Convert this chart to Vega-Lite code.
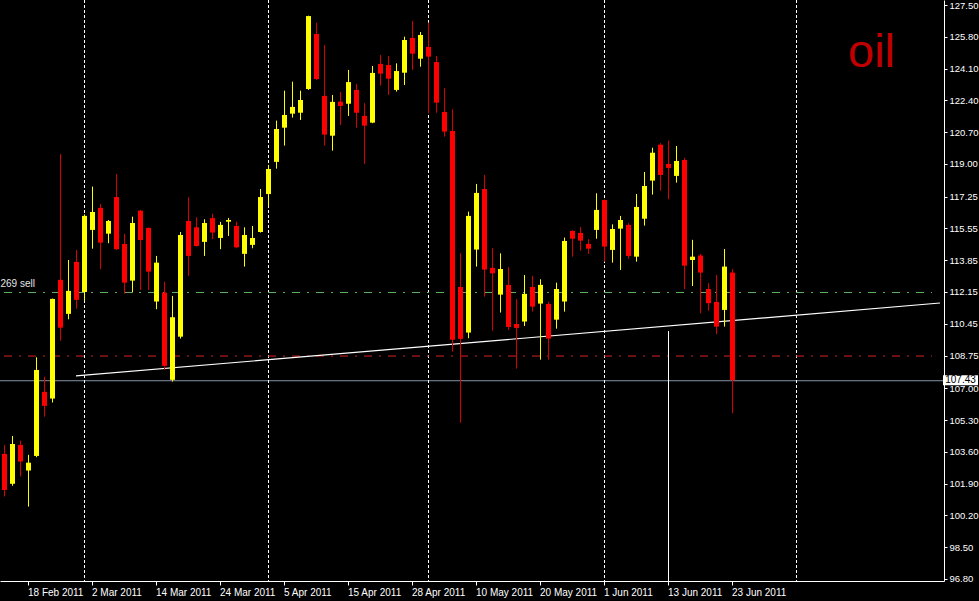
{
  "$schema": "https://vega.github.io/schema/vega-lite/v6.json",
  "width": 944,
  "height": 581,
  "autosize": {"type": "none"},
  "padding": {"left": 0, "top": 0, "right": 35, "bottom": 20},
  "background": "#000000",
  "config": {
    "view": {"stroke": null, "fill": "#000000"},
    "font": "Liberation Sans",
    "axisY": {
      "orient": "right",
      "grid": false,
      "domainColor": "#ffffff",
      "tickColor": "#ffffff",
      "tickSize": 3,
      "labelColor": "#ffffff",
      "labelFont": "Liberation Sans",
      "labelFontSize": 9.5,
      "labelPadding": 2,
      "labelAlign": "left",
      "labelBaseline": "middle",
      "labelFlush": false,
      "labelOverlap": false
    }
  },
  "datasets": {
    "candles": [
      {"date": "15 Feb 2011", "o": 103.49, "h": 103.97, "l": 101.21, "c": 101.56},
      {"date": "16 Feb 2011", "o": 101.89, "h": 104.45, "l": 101.78, "c": 104.02},
      {"date": "17 Feb 2011", "o": 103.97, "h": 104.20, "l": 102.28, "c": 103.08},
      {"date": "18 Feb 2011", "o": 102.60, "h": 103.44, "l": 100.67, "c": 103.02},
      {"date": "21 Feb 2011", "o": 103.38, "h": 108.66, "l": 103.31, "c": 107.98},
      {"date": "22 Feb 2011", "o": 106.81, "h": 107.62, "l": 105.48, "c": 106.06},
      {"date": "23 Feb 2011", "o": 106.45, "h": 111.80, "l": 106.24, "c": 111.78},
      {"date": "24 Feb 2011", "o": 112.80, "h": 119.53, "l": 109.55, "c": 110.24},
      {"date": "25 Feb 2011", "o": 110.98, "h": 113.86, "l": 110.69, "c": 112.21},
      {"date": "28 Feb 2011", "o": 113.76, "h": 114.40, "l": 111.26, "c": 111.73},
      {"date": "1 Mar 2011", "o": 112.15, "h": 116.30, "l": 111.69, "c": 116.22},
      {"date": "2 Mar 2011", "o": 115.47, "h": 117.79, "l": 114.47, "c": 116.43},
      {"date": "3 Mar 2011", "o": 116.65, "h": 116.86, "l": 113.37, "c": 114.79},
      {"date": "4 Mar 2011", "o": 115.27, "h": 116.00, "l": 114.76, "c": 115.95},
      {"date": "7 Mar 2011", "o": 117.23, "h": 118.46, "l": 114.40, "c": 114.44},
      {"date": "8 Mar 2011", "o": 114.72, "h": 115.26, "l": 112.05, "c": 112.65},
      {"date": "9 Mar 2011", "o": 112.76, "h": 116.18, "l": 112.12, "c": 115.84},
      {"date": "10 Mar 2011", "o": 116.50, "h": 116.54, "l": 112.26, "c": 114.93},
      {"date": "11 Mar 2011", "o": 115.58, "h": 115.60, "l": 112.26, "c": 113.24},
      {"date": "14 Mar 2011", "o": 111.64, "h": 114.08, "l": 111.23, "c": 113.72},
      {"date": "15 Mar 2011", "o": 112.12, "h": 112.70, "l": 107.98, "c": 108.20},
      {"date": "16 Mar 2011", "o": 107.45, "h": 111.94, "l": 107.36, "c": 110.80},
      {"date": "17 Mar 2011", "o": 109.76, "h": 115.36, "l": 109.66, "c": 115.20},
      {"date": "18 Mar 2011", "o": 115.95, "h": 117.22, "l": 113.01, "c": 114.08},
      {"date": "21 Mar 2011", "o": 115.61, "h": 116.15, "l": 114.58, "c": 114.61},
      {"date": "22 Mar 2011", "o": 114.83, "h": 116.04, "l": 114.08, "c": 115.84},
      {"date": "23 Mar 2011", "o": 116.10, "h": 116.33, "l": 114.97, "c": 115.33},
      {"date": "24 Mar 2011", "o": 115.04, "h": 115.90, "l": 114.44, "c": 115.74},
      {"date": "25 Mar 2011", "o": 115.91, "h": 116.11, "l": 115.15, "c": 116.00},
      {"date": "28 Mar 2011", "o": 115.68, "h": 115.91, "l": 114.49, "c": 114.54},
      {"date": "29 Mar 2011", "o": 114.19, "h": 115.61, "l": 113.51, "c": 115.20},
      {"date": "30 Mar 2011", "o": 114.67, "h": 115.68, "l": 114.49, "c": 115.04},
      {"date": "31 Mar 2011", "o": 115.36, "h": 117.66, "l": 115.33, "c": 117.23},
      {"date": "1 Apr 2011", "o": 117.39, "h": 118.95, "l": 116.72, "c": 118.73},
      {"date": "4 Apr 2011", "o": 119.11, "h": 121.32, "l": 118.75, "c": 120.87},
      {"date": "5 Apr 2011", "o": 120.94, "h": 122.92, "l": 119.98, "c": 121.62},
      {"date": "6 Apr 2011", "o": 121.69, "h": 123.40, "l": 121.48, "c": 122.05},
      {"date": "7 Apr 2011", "o": 121.74, "h": 122.92, "l": 121.35, "c": 122.42},
      {"date": "8 Apr 2011", "o": 123.01, "h": 126.93, "l": 122.96, "c": 126.91},
      {"date": "11 Apr 2011", "o": 125.95, "h": 126.56, "l": 123.49, "c": 123.54},
      {"date": "12 Apr 2011", "o": 122.64, "h": 125.36, "l": 119.98, "c": 120.57},
      {"date": "13 Apr 2011", "o": 120.51, "h": 122.69, "l": 119.71, "c": 122.32},
      {"date": "14 Apr 2011", "o": 122.33, "h": 122.85, "l": 121.08, "c": 122.10},
      {"date": "15 Apr 2011", "o": 122.22, "h": 124.03, "l": 121.57, "c": 123.38},
      {"date": "18 Apr 2011", "o": 122.96, "h": 123.28, "l": 120.94, "c": 121.74},
      {"date": "19 Apr 2011", "o": 121.57, "h": 122.25, "l": 119.00, "c": 121.05},
      {"date": "20 Apr 2011", "o": 121.21, "h": 124.24, "l": 121.18, "c": 123.87},
      {"date": "21 Apr 2011", "o": 124.35, "h": 124.83, "l": 123.19, "c": 123.83},
      {"date": "25 Apr 2011", "o": 124.29, "h": 124.78, "l": 122.69, "c": 123.56},
      {"date": "26 Apr 2011", "o": 122.96, "h": 124.38, "l": 122.87, "c": 123.97},
      {"date": "27 Apr 2011", "o": 123.88, "h": 125.81, "l": 123.22, "c": 125.63},
      {"date": "28 Apr 2011", "o": 125.74, "h": 126.65, "l": 124.03, "c": 124.90},
      {"date": "29 Apr 2011", "o": 124.63, "h": 126.06, "l": 124.20, "c": 125.90},
      {"date": "2 May 2011", "o": 125.26, "h": 126.56, "l": 121.71, "c": 124.74},
      {"date": "3 May 2011", "o": 124.45, "h": 124.78, "l": 121.74, "c": 122.28},
      {"date": "4 May 2011", "o": 121.78, "h": 123.05, "l": 120.46, "c": 120.73},
      {"date": "5 May 2011", "o": 120.76, "h": 121.92, "l": 108.96, "c": 109.59},
      {"date": "6 May 2011", "o": 112.42, "h": 114.22, "l": 105.16, "c": 109.64},
      {"date": "9 May 2011", "o": 109.98, "h": 116.45, "l": 109.68, "c": 116.22},
      {"date": "10 May 2011", "o": 114.42, "h": 117.93, "l": 113.51, "c": 117.45},
      {"date": "11 May 2011", "o": 117.66, "h": 118.41, "l": 111.90, "c": 113.35},
      {"date": "12 May 2011", "o": 113.44, "h": 114.49, "l": 110.08, "c": 113.15},
      {"date": "13 May 2011", "o": 112.01, "h": 114.22, "l": 111.05, "c": 113.38},
      {"date": "16 May 2011", "o": 112.53, "h": 113.47, "l": 110.12, "c": 110.28},
      {"date": "17 May 2011", "o": 110.44, "h": 111.76, "l": 108.05, "c": 110.23},
      {"date": "18 May 2011", "o": 110.57, "h": 113.06, "l": 110.33, "c": 112.05},
      {"date": "19 May 2011", "o": 112.42, "h": 113.01, "l": 111.10, "c": 111.37},
      {"date": "20 May 2011", "o": 111.53, "h": 112.83, "l": 108.53, "c": 112.53},
      {"date": "23 May 2011", "o": 111.51, "h": 111.62, "l": 108.53, "c": 109.66},
      {"date": "24 May 2011", "o": 110.67, "h": 112.65, "l": 110.19, "c": 112.31},
      {"date": "25 May 2011", "o": 111.64, "h": 115.06, "l": 111.10, "c": 114.88},
      {"date": "26 May 2011", "o": 115.42, "h": 115.45, "l": 114.04, "c": 115.00},
      {"date": "27 May 2011", "o": 115.31, "h": 115.63, "l": 114.36, "c": 114.90},
      {"date": "30 May 2011", "o": 114.72, "h": 114.97, "l": 114.19, "c": 114.47},
      {"date": "31 May 2011", "o": 115.47, "h": 117.43, "l": 115.00, "c": 116.54},
      {"date": "1 Jun 2011", "o": 117.07, "h": 117.10, "l": 113.77, "c": 114.58},
      {"date": "2 Jun 2011", "o": 114.40, "h": 115.77, "l": 113.72, "c": 115.52},
      {"date": "3 Jun 2011", "o": 115.54, "h": 116.22, "l": 113.33, "c": 116.00},
      {"date": "6 Jun 2011", "o": 115.74, "h": 115.83, "l": 113.93, "c": 114.08},
      {"date": "7 Jun 2011", "o": 114.04, "h": 117.39, "l": 113.77, "c": 116.70},
      {"date": "8 Jun 2011", "o": 116.07, "h": 118.57, "l": 115.70, "c": 117.82},
      {"date": "9 Jun 2011", "o": 118.11, "h": 119.87, "l": 117.36, "c": 119.60},
      {"date": "10 Jun 2011", "o": 120.03, "h": 120.11, "l": 117.57, "c": 118.41},
      {"date": "13 Jun 2011", "o": 119.00, "h": 120.25, "l": 117.11, "c": 118.79},
      {"date": "14 Jun 2011", "o": 118.36, "h": 119.96, "l": 118.00, "c": 119.16},
      {"date": "15 Jun 2011", "o": 119.21, "h": 119.32, "l": 112.30, "c": 113.56},
      {"date": "16 Jun 2011", "o": 113.86, "h": 114.94, "l": 112.47, "c": 114.04},
      {"date": "17 Jun 2011", "o": 114.10, "h": 114.19, "l": 111.01, "c": 113.19},
      {"date": "20 Jun 2011", "o": 112.31, "h": 112.62, "l": 111.15, "c": 111.55},
      {"date": "21 Jun 2011", "o": 111.62, "h": 113.06, "l": 109.89, "c": 110.30},
      {"date": "22 Jun 2011", "o": 111.19, "h": 114.45, "l": 110.30, "c": 113.51},
      {"date": "23 Jun 2011", "o": 113.19, "h": 113.38, "l": 105.67, "c": 107.43}
    ],
    "grid": [
      {"date": "1 Mar 2011"}, {"date": "1 Apr 2011"}, {"date": "2 May 2011"}, {"date": "1 Jun 2011"}, {"date": "5 Jul 2011"}
    ],
    "levels": [
      {"date": "15 Feb 2011", "date2": "28 Jul 2011", "price": 112.15, "line": "sell"},
      {"date": "15 Feb 2011", "date2": "28 Jul 2011", "price": 108.75, "line": "level"}
    ],
    "trend": [
      {"date": "28 Feb 2011", "price": 107.66},
      {"date": "29 Jul 2011", "price": 111.56}
    ],
    "vline": [{"date": "13 Jun 2011", "price": 110.06, "price2": 96.69}],
    "bid": [{"price": 107.43}],
    "bidbox": [{"date": "29 Jul 2011", "price": 107.43, "text": "107.43"}],
    "oil": [{"date": "14 Jul 2011", "price": 124.2, "text": "oil"}],
    "sell": [{"date": "15 Feb 2011", "price": 112.42, "text": "269 sell"}]
  },
  "layer": [
    {
      "data": {"name": "bid"},
      "mark": {"type": "rule", "color": "#8593a3", "strokeWidth": 1, "yOffset": 0.5},
      "encoding": {
        "y": {
          "field": "price",
          "type": "quantitative",
          "title": null,
          "scale": {"domain": [96.69, 127.77], "nice": false, "zero": false},
          "axis": {
            "orient": "right",
            "values": [127.5, 125.8, 124.1, 122.4, 120.7, 119, 117.25, 115.55, 113.85, 112.15, 110.45, 108.75, 107, 105.3, 103.6, 101.9, 100.2, 98.5, 96.8],
            "format": ".2f",
            "title": null,
            "grid": false,
            "domainColor": "#ffffff",
            "tickColor": "#ffffff",
            "tickSize": 3,
            "labelColor": "#ffffff",
            "labelFont": "Liberation Sans",
            "labelFontSize": 9.5,
            "labelPadding": 2,
            "labelAlign": "left",
            "labelBaseline": "middle",
            "labelFlush": false,
            "labelOverlap": false,
            "labelBound": false,
            "tickCount": 19
          }
        }
      }
    },
    {
      "encoding": {
        "x": {
          "field": "date",
          "type": "ordinal",
          "sort": null,
          "scale": {
            "domain": ["15 Feb 2011","16 Feb 2011","17 Feb 2011","18 Feb 2011","21 Feb 2011","22 Feb 2011","23 Feb 2011","24 Feb 2011","25 Feb 2011","28 Feb 2011","1 Mar 2011","2 Mar 2011","3 Mar 2011","4 Mar 2011","7 Mar 2011","8 Mar 2011","9 Mar 2011","10 Mar 2011","11 Mar 2011","14 Mar 2011","15 Mar 2011","16 Mar 2011","17 Mar 2011","18 Mar 2011","21 Mar 2011","22 Mar 2011","23 Mar 2011","24 Mar 2011","25 Mar 2011","28 Mar 2011","29 Mar 2011","30 Mar 2011","31 Mar 2011","1 Apr 2011","4 Apr 2011","5 Apr 2011","6 Apr 2011","7 Apr 2011","8 Apr 2011","11 Apr 2011","12 Apr 2011","13 Apr 2011","14 Apr 2011","15 Apr 2011","18 Apr 2011","19 Apr 2011","20 Apr 2011","21 Apr 2011","25 Apr 2011","26 Apr 2011","27 Apr 2011","28 Apr 2011","29 Apr 2011","2 May 2011","3 May 2011","4 May 2011","5 May 2011","6 May 2011","9 May 2011","10 May 2011","11 May 2011","12 May 2011","13 May 2011","16 May 2011","17 May 2011","18 May 2011","19 May 2011","20 May 2011","23 May 2011","24 May 2011","25 May 2011","26 May 2011","27 May 2011","30 May 2011","31 May 2011","1 Jun 2011","2 Jun 2011","3 Jun 2011","6 Jun 2011","7 Jun 2011","8 Jun 2011","9 Jun 2011","10 Jun 2011","13 Jun 2011","14 Jun 2011","15 Jun 2011","16 Jun 2011","17 Jun 2011","20 Jun 2011","21 Jun 2011","22 Jun 2011","23 Jun 2011","24 Jun 2011","27 Jun 2011","28 Jun 2011","29 Jun 2011","30 Jun 2011","1 Jul 2011","4 Jul 2011","5 Jul 2011","6 Jul 2011","7 Jul 2011","8 Jul 2011","11 Jul 2011","12 Jul 2011","13 Jul 2011","14 Jul 2011","15 Jul 2011","18 Jul 2011","19 Jul 2011","20 Jul 2011","21 Jul 2011","22 Jul 2011","25 Jul 2011","26 Jul 2011","27 Jul 2011","28 Jul 2011","29 Jul 2011"],
            "paddingInner": 0,
            "paddingOuter": 0
          },
          "axis": {
            "orient": "bottom",
            "values": ["18 Feb 2011","2 Mar 2011","14 Mar 2011","24 Mar 2011","5 Apr 2011","15 Apr 2011","28 Apr 2011","10 May 2011","20 May 2011","1 Jun 2011","13 Jun 2011","23 Jun 2011"],
            "title": null,
            "grid": false,
            "labelAngle": 0,
            "labelAlign": "left",
            "labelBaseline": "top",
            "labelPadding": 2,
            "tickSize": 4,
            "domainColor": "#ffffff",
            "tickColor": "#ffffff",
            "labelColor": "#ffffff",
            "labelFont": "Liberation Sans",
            "labelFontSize": 10,
            "labelOverlap": false,
            "labelFlush": false,
            "bandPosition": 0.5
          }
        }
      },
      "layer": [
        {
          "data": {"name": "grid"},
          "mark": {"type": "rule", "color": "#ffffff", "strokeDash": [3, 2], "strokeWidth": 1, "xOffset": 0.5},
          "encoding": {}
        },
        {
          "data": {"name": "levels"},
          "mark": {"type": "rule", "strokeDash": [8, 7, 2, 7], "strokeWidth": 1, "yOffset": 0.5},
          "encoding": {
            "x2": {"field": "date2"},
            "y": {"field": "price", "type": "quantitative", "title": null, "scale": {"domain": [96.69, 127.77], "nice": false, "zero": false}},
            "color": {"field": "line", "type": "nominal", "scale": {"domain": ["sell", "level"], "range": ["#5fb35f", "#d42020"]}, "legend": null}
          }
        },
        {
          "data": {"name": "trend"},
          "mark": {"type": "line", "color": "#ffffff", "strokeWidth": 1.2},
          "encoding": {
            "y": {"field": "price", "type": "quantitative", "title": null, "scale": {"domain": [96.69, 127.77], "nice": false, "zero": false}}
          }
        },
        {
          "data": {"name": "vline"},
          "mark": {"type": "rule", "color": "#ffffff", "strokeWidth": 1, "xOffset": 0.5},
          "encoding": {
            "y": {"field": "price", "type": "quantitative", "title": null, "scale": {"domain": [96.69, 127.77], "nice": false, "zero": false}},
            "y2": {"field": "price2"}
          }
        },
        {
          "data": {"name": "candles"},
          "mark": {"type": "rule", "strokeWidth": 1, "xOffset": 0.5},
          "encoding": {
            "y": {"field": "l", "type": "quantitative", "title": null, "scale": {"domain": [96.69, 127.77], "nice": false, "zero": false}},
            "y2": {"field": "h"},
            "color": {"condition": {"test": "datum.c >= datum.o", "value": "#ffff00"}, "value": "#d80000"}
          }
        },
        {
          "data": {"name": "candles"},
          "mark": {"type": "bar", "size": 5, "xOffset": 0.5},
          "encoding": {
            "y": {"field": "o", "type": "quantitative", "title": null, "scale": {"domain": [96.69, 127.77], "nice": false, "zero": false}},
            "y2": {"field": "c"},
            "color": {"condition": {"test": "datum.c >= datum.o", "value": "#ffff00"}, "value": "#ff0000"}
          }
        },
        {
          "data": {"name": "oil"},
          "mark": {"type": "text", "color": "#c00000", "font": "Liberation Sans", "fontSize": 47, "align": "left", "baseline": "alphabetic", "dx": -4},
          "encoding": {
            "y": {"field": "price", "type": "quantitative", "title": null, "scale": {"domain": [96.69, 127.77], "nice": false, "zero": false}},
            "text": {"field": "text"}
          }
        },
        {
          "data": {"name": "sell"},
          "mark": {"type": "text", "color": "#e6e6e6", "font": "Liberation Sans", "fontSize": 10, "align": "left", "baseline": "alphabetic", "dx": -3.5},
          "encoding": {
            "y": {"field": "price", "type": "quantitative", "title": null, "scale": {"domain": [96.69, 127.77], "nice": false, "zero": false}},
            "text": {"field": "text"}
          }
        },
        {
          "data": {"name": "bidbox"},
          "mark": {"type": "point", "shape": "M-1,-0.2857L1,-0.2857L1,0.2857L-1,0.2857Z", "size": 1225, "filled": true, "color": "#ffffff", "opacity": 1, "xOffset": 20.5, "clip": false},
          "encoding": {
            "y": {"field": "price", "type": "quantitative", "title": null, "scale": {"domain": [96.69, 127.77], "nice": false, "zero": false}}
          }
        },
        {
          "data": {"name": "bidbox"},
          "mark": {"type": "text", "color": "#000000", "font": "Liberation Sans", "fontSize": 10, "align": "center", "baseline": "middle", "xOffset": 20.5, "clip": false},
          "encoding": {
            "y": {"field": "price", "type": "quantitative", "title": null, "scale": {"domain": [96.69, 127.77], "nice": false, "zero": false}},
            "text": {"field": "text"}
          }
        }
      ]
    }
  ]
}
